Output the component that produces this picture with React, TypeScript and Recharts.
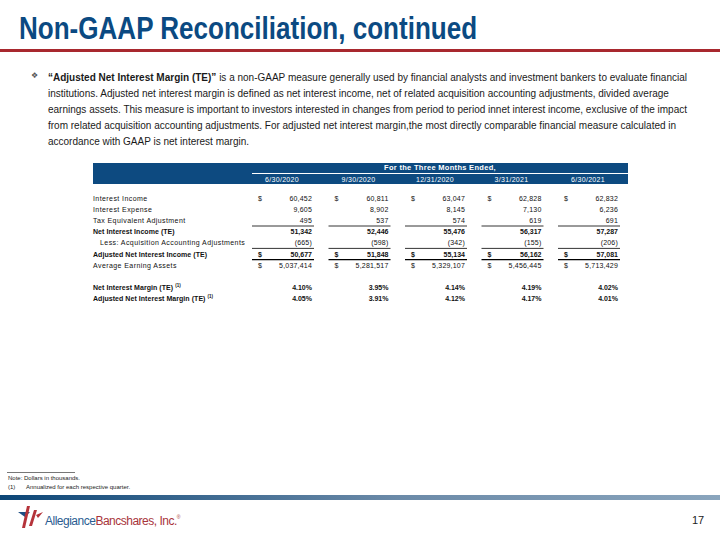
import React from 'react';
import { ScatterChart, Scatter, XAxis, YAxis } from 'recharts';

// ---------- data ----------
const periods = ['6/30/2020', '9/30/2020', '12/31/2020', '3/31/2021', '6/30/2021'];

const interestIncome = [60452, 60811, 63047, 62828, 62832];
const interestExpense = [9605, 8902, 8145, 7130, 6236];
const taxEquivalentAdjustment = [495, 537, 574, 619, 691];
const netInterestIncomeTE = [51342, 52446, 55476, 56317, 57287];
const acquisitionAdjustments = [-665, -598, -342, -155, -206];
const adjustedNetInterestIncomeTE = [50677, 51848, 55134, 56162, 57081];
const averageEarningAssets = [5037414, 5281517, 5329107, 5456445, 5713429];
const netInterestMargin = [4.10, 3.95, 4.14, 4.19, 4.02];
const adjustedNetInterestMargin = [4.05, 3.91, 4.12, 4.17, 4.01];

const rowLabels = [
  'Interest Income',
  'Interest Expense',
  'Tax Equivalent Adjustment',
  'Net Interest Income (TE)',
  'Less: Acquisition Accounting Adjustments',
  'Adjusted Net Interest Income (TE)',
  'Average Earning Assets',
  '',
  'Net Interest Margin (TE)',
  'Adjusted Net Interest Margin (TE)',
];
const rowSeries: number[][] = [
  interestIncome,
  interestExpense,
  taxEquivalentAdjustment,
  netInterestIncomeTE,
  acquisitionAdjustments,
  adjustedNetInterestIncomeTE,
  averageEarningAssets,
  [],
  netInterestMargin,
  adjustedNetInterestMargin,
];

const boldRows = ['Net Interest Income (TE)', 'Adjusted Net Interest Income (TE)', 'Net Interest Margin (TE)', 'Adjusted Net Interest Margin (TE)'];
const dollarRows = ['Interest Income', 'Adjusted Net Interest Income (TE)', 'Average Earning Assets'];
const ruledRows = ['Tax Equivalent Adjustment', 'Less: Acquisition Accounting Adjustments', 'Adjusted Net Interest Income (TE)'];
const percentRows = ['Net Interest Margin (TE)', 'Adjusted Net Interest Margin (TE)'];
const footnoteRows = ['Net Interest Margin (TE)', 'Adjusted Net Interest Margin (TE)'];
const indentedRows = ['Less: Acquisition Accounting Adjustments'];

const headerTitle = 'For the Three Months Ended,';
const slideTitle = 'Non-GAAP Reconciliation, continued';
const paragraphLines = [
  'is a non-GAAP measure generally used by financial analysts and investment bankers to evaluate financial',
  'institutions. Adjusted net interest margin is defined as net interest income, net of related acquisition accounting adjustments, divided average',
  'earnings assets. This measure is important to investors interested in changes from period to period innet interest income, exclusive of the impact',
  'from related acquisition accounting adjustments. For adjusted net interest margin,the most directly comparable financial measure calculated in',
  'accordance with GAAP is net interest margin.',
];
const paragraphLead = '\u201CAdjusted Net Interest Margin (TE)\u201D';
const footNotes = ['Note: Dollars in thousands.', 'Annualized for each respective quarter.'];

// ---------- helpers ----------
const FONT = '"Liberation Sans", Arial, sans-serif';
const points = rowSeries.flatMap((vals, r) =>
  vals.map((v, c) => ({ col: c, row: r, value: v, label: rowLabels[r] }))
);

const fmt = (label: string, v: number) => {
  if (percentRows.includes(label)) return v.toFixed(2) + '%';
  const s = Math.abs(v).toLocaleString('en-US');
  return v < 0 ? `(${s})` : s;
};

const CellShape = (props: any) => {
  const { cx, cy, payload } = props;
  const label: string = payload.label;
  const bold = boldRows.includes(label);
  const fw = bold ? 700 : 400;
  return (
    <g>
      {dollarRows.includes(label) && (
        <text x={cx - 24} y={cy} dominantBaseline="central" fontSize={7} fontWeight={fw} fill="#111" fontFamily={FONT}>$</text>
      )}
      <text x={cx + 30} y={cy} textAnchor="end" dominantBaseline="central" fontSize={7} fontWeight={fw} fill="#111" fontFamily={FONT} letterSpacing={bold ? 0 : 0.2}>
        {fmt(label, payload.value)}
      </text>
      {ruledRows.includes(label) && (
        <line x1={cx - 30} x2={cx + 32} y1={cy + 5.6} y2={cy + 5.6} stroke="#000" strokeWidth={label === 'Adjusted Net Interest Income (TE)' ? 1.1 : 0.8} />
      )}
    </g>
  );
};

const RowTick = (props: any) => {
  const { y, payload } = props;
  const label = rowLabels[payload.value];
  if (!label) return <g />;
  const bold = boldRows.includes(label);
  return (
    <text x={indentedRows.includes(label) ? 100 : 93} y={y} dominantBaseline="central" fontSize={7} fontWeight={bold ? 700 : 400} fill="#111" fontFamily={FONT} letterSpacing={bold ? 0.05 : 0.42}>
      {label}
      {footnoteRows.includes(label) && (
        <tspan fontSize={4.5} dy={-3} dx={2}>(1)</tspan>
      )}
    </text>
  );
};

const DateTick = (props: any) => {
  const { x, payload } = props;
  return (
    <text x={x} y={179.5} textAnchor="middle" dominantBaseline="central" fontSize={7} fill="#fff" fontFamily={FONT} letterSpacing={0.3}>
      {periods[payload.value]}
    </text>
  );
};

const Logo = () => (
  <svg width={200} height={34} style={{ position: 'absolute', left: 0, top: 502 }}>
    <polygon points="18,10 30,10 25,15" fill="#1f4f84" />
    <polygon points="27,4 30,4 25,26 22,26" fill="#b5333a" />
    <polygon points="34,8 37,8 32,24 29,24" fill="#b5333a" />
    <polygon points="36,13 43,10 38,16" fill="#b5333a" />
    <text x={45} y={23} fontSize={12} letterSpacing={-0.5} fontFamily={FONT}>
      <tspan fill="#2a5c91">Allegiance</tspan>
      <tspan fill="#a8343a">Bancshares, Inc.</tspan>
      <tspan fill="#a8343a" fontSize={5} dy={-6}>®</tspan>
    </text>
  </svg>
);

export default function App() {
  return (
    <div style={{ position: 'absolute', left: 0, top: 0, width: 720, height: 540, overflow: 'hidden', background: '#fff', fontFamily: FONT }}>
      {/* title */}
      <div style={{ position: 'absolute', left: 19, top: 9, fontFamily: FONT, fontWeight: 700, fontSize: 31, color: '#0b4a82', whiteSpace: 'nowrap', lineHeight: '40px', transform: 'scaleX(0.84)', transformOrigin: 'left top' }}>
        {slideTitle}
      </div>
      <div style={{ position: 'absolute', left: 0, top: 49, width: 720, height: 3, background: '#a8282e' }} />

      {/* bullet paragraph */}
      <div style={{ position: 'absolute', left: 31, top: 71, fontSize: 8, color: '#555', fontFamily: '"DejaVu Sans"' }}>{'\u2756'}</div>
      <div style={{ position: 'absolute', left: 48, top: 70, fontSize: 10, lineHeight: '16px', color: '#1a1a1a', whiteSpace: 'nowrap' }}>
        {paragraphLines.map((l, i) => (
          <div key={i}>
            {i === 0 && <b>{paragraphLead} </b>}
            {l}
          </div>
        ))}
      </div>

      {/* table header band */}
      <div style={{ position: 'absolute', left: 93, top: 163, width: 535, height: 21, background: '#0d4a80' }} />
      <div style={{ position: 'absolute', left: 252, top: 173, width: 376, height: 1, background: '#fff' }} />
      <div style={{ position: 'absolute', left: 252, top: 162, width: 376, textAlign: 'center', color: '#fff', fontWeight: 700, fontSize: 7.5, lineHeight: '11px', letterSpacing: 0.3 }}>
        {headerTitle}
      </div>

      {/* table body via recharts scales */}
      <div style={{ position: 'absolute', left: 0, top: 0 }}>
        <ScatterChart width={720} height={540} margin={{ top: 172.4, right: 93.75, bottom: 235.6, left: 0 }}>
          <XAxis type="number" dataKey="col" orientation="top" domain={[-0.5, 4.5]} ticks={[0, 1, 2, 3, 4]} interval={0} height={20} axisLine={false} tickLine={false} tick={<DateTick />} />
          <YAxis type="number" dataKey="row" domain={[-0.5, 9.5]} ticks={[0, 1, 2, 3, 4, 5, 6, 7, 8, 9]} interval={0} reversed width={243.75} axisLine={false} tickLine={false} tick={<RowTick />} />
          <Scatter data={points} isAnimationActive={false} shape={<CellShape />} />
        </ScatterChart>
      </div>

      {/* footer */}
      <div style={{ position: 'absolute', left: 7, top: 472, width: 68, height: 1, background: '#777' }} />
      <div style={{ position: 'absolute', left: 8, top: 474, fontSize: 6, lineHeight: '9px', color: '#222', whiteSpace: 'nowrap' }}>
        <div>{footNotes[0]}</div>
        <div><span style={{ display: 'inline-block', width: 18 }}>(1)</span>{footNotes[1]}</div>
      </div>
      <div style={{ position: 'absolute', left: 0, top: 495, width: 720, height: 5, background: 'linear-gradient(to right, #0c4677, #6b8aa8 55%, #8aa5bd)' }} />
      <Logo />
      <div style={{ position: 'absolute', left: 692, top: 514, fontSize: 11, color: '#222' }}>17</div>
    </div>
  );
}
